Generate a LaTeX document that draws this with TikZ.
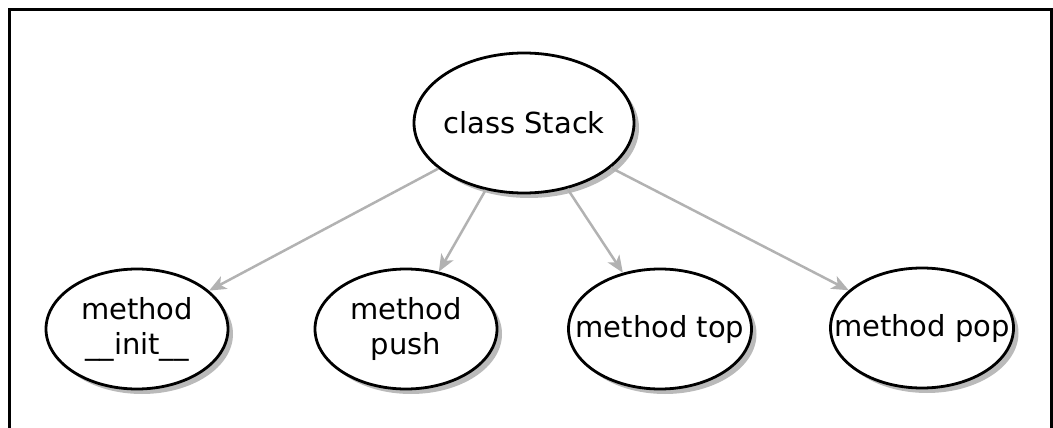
\documentclass[tikz,border=0pt]{standalone}
\usepackage{fontspec}
\setmainfont{DejaVu Sans}
\usetikzlibrary{arrows.meta,shadows,shapes.geometric}

\begin{document}
\begin{tikzpicture}[x=1pt,y=-1pt,
	txt/.style={font=\fontsize{29}{35}\selectfont,align=center,inner sep=0pt},
	oval/.style={ellipse,draw,line width=2.8pt,fill=white,inner sep=0pt,
		drop shadow={shadow xshift=5pt,shadow yshift=-5pt,fill=black!27,opacity=1},
		label={[txt]center:#1}},
	link/.style={draw=black!30,line width=2.5pt,-{Stealth[length=17pt,width=14pt,inset=4.5pt]}}]
	\useasboundingbox (0,0) rectangle (1053,428);
	% frame, its bottom edge falls off the page
	\draw[line width=3pt] (9.7,432) -- (9.7,10) -- (1051.5,10) -- (1051.5,432);
	\node[oval={class Stack},minimum width=220pt,minimum height=140pt] (S) at (524,123) {};
	\node[oval={method\\\_\_init\_\_},minimum width=182pt,minimum height=120pt] (I) at (137,329) {};
	\node[oval={method\\push},minimum width=182pt,minimum height=120pt] (P) at (406,329) {};
	\node[oval={method top},minimum width=183pt,minimum height=120pt] (T) at (660,329) {};
	\node[oval={method pop},minimum width=183pt,minimum height=120pt] (O) at (922,328) {};
	\foreach \x in {I,P,T,O} \draw[link] (S) -- (\x);
\end{tikzpicture}
\end{document}
